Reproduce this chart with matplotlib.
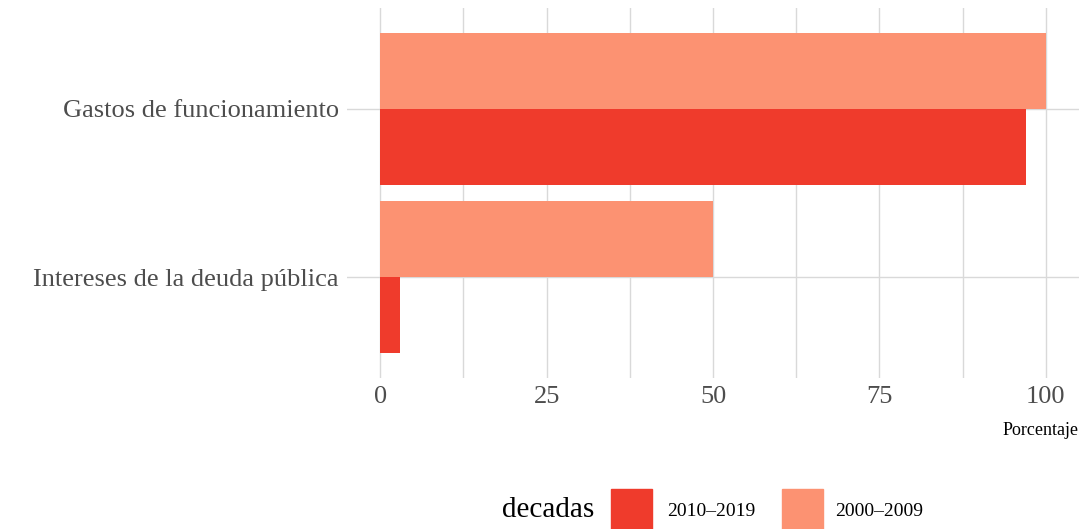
import matplotlib.pyplot as plt
from matplotlib.patches import Rectangle
import numpy as np

categories = ["Intereses de la deuda pública", "Gastos de funcionamiento"]
decadas = ["2010–2019", "2000–2009"]
val_2010 = [3, 97]
val_2000 = [50, 100]
colors = ["#EF3B2C", "#FC9272"]
x_ticks = [0, 25, 50, 75, 100]

plt.rcParams['font.family'] = ['Liberation Serif', 'DejaVu Serif']

W, H = 1085, 529
fig = plt.figure(figsize=(W / 100, H / 100), dpi=100)
ax = fig.add_axes([347 / W, 1 - 378 / H, (1079 - 347) / W, (378 - 8) / H])

y = np.arange(len(categories))
h = 0.45
ax.barh(y - h / 2, val_2010, height=h, color=colors[0], align="center")
ax.barh(y + h / 2, val_2000, height=h, color=colors[1], align="center")

ax.set_xlim(-5, 105)
ax.set_ylim(-0.6, 1.6)
ax.set_xticks(x_ticks)
ax.set_xticks([12.5, 37.5, 62.5, 87.5], minor=True)
ax.set_yticks(y)
ax.set_yticklabels(categories)
ax.grid(True, which="both", axis="x", color="#d9d9d9", lw=1.0)
ax.grid(True, axis="y", color="#d9d9d9", lw=1.0)
ax.set_axisbelow(True)
for s in ax.spines.values():
    s.set_visible(False)
ax.tick_params(axis="both", which="both", length=0)
ax.tick_params(axis="y", labelsize=19, labelcolor="#4d4d4d", pad=6)
ax.tick_params(axis="x", labelsize=19, labelcolor="#4d4d4d", pad=6)

ax.set_xlabel("Porcentaje", fontsize=13, loc="right", labelpad=10, color="black")

# legend drawn by hand so the title sits to the left of the keys
fig.text(594 / W, 1 - 510 / H, "decadas", fontsize=21, ha="right", va="center")
key_x = [611, 782]
txt_x = [667, 835]
for i in range(len(decadas)):
    fig.add_artist(Rectangle((key_x[i] / W, 0), 41 / W, (H - 489) / H,
                             transform=fig.transFigure, color=colors[i]))
    fig.text(txt_x[i] / W, 1 - 511 / H, decadas[i], fontsize=14, ha="left", va="center")

fig.savefig("out.png", dpi=100)
